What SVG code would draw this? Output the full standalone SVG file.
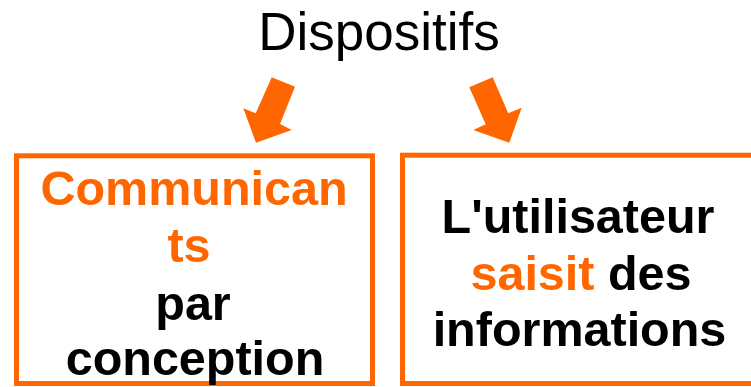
<svg xmlns="http://www.w3.org/2000/svg" width="751" height="387" viewBox="0 0 751 387">
  <style>
    .box { fill: #FFFFFF; stroke: #FF6600; stroke-width: 5; }
    .t { font-family: "Liberation Sans", Arial, sans-serif; font-weight: bold; font-size: 48.5px; text-anchor: middle; fill: #000000; }
    .o { fill: #FF6600; }
    .title { font-family: "Liberation Sans", Arial, sans-serif; font-size: 53px; text-anchor: middle; fill: #000000; }
    .arrow { fill: #FF6600; }
  </style>
  <rect width="751" height="387" fill="#FFFFFF"/>
  <g id="title">
    <text class="title" x="379" y="50">Dispositifs</text>
  </g>
  <g id="connectors">
    <polygon class="arrow" points="271.7,77.3 295,86.7 280,124 291.7,130 256,142.7 243.3,108.3 255.7,113.3"/>
    <polygon class="arrow" points="469.3,87.3 492.7,77.3 508.3,113.3 521.7,107.7 509.3,142.7 473.3,130 485.7,124.3"/>
  </g>
  <g id="node-communicants">
    <rect class="box" x="16.5" y="155.8" width="356" height="227.7"/>
    <text class="t o" x="194" y="205">Communican</text>
    <text class="t o" x="189" y="262">ts</text>
    <text class="t" x="193" y="320">par</text>
    <text class="t" x="195" y="375">conception</text>
  </g>
  <g id="node-saisit">
    <rect class="box" x="402.5" y="155.2" width="360" height="228.3"/>
    <text class="t" x="578" y="233">L'utilisateur</text>
    <text class="t" x="581" y="290"><tspan class="o">saisit</tspan> des</text>
    <text class="t" x="579.5" y="346">informations</text>
  </g>
</svg>
